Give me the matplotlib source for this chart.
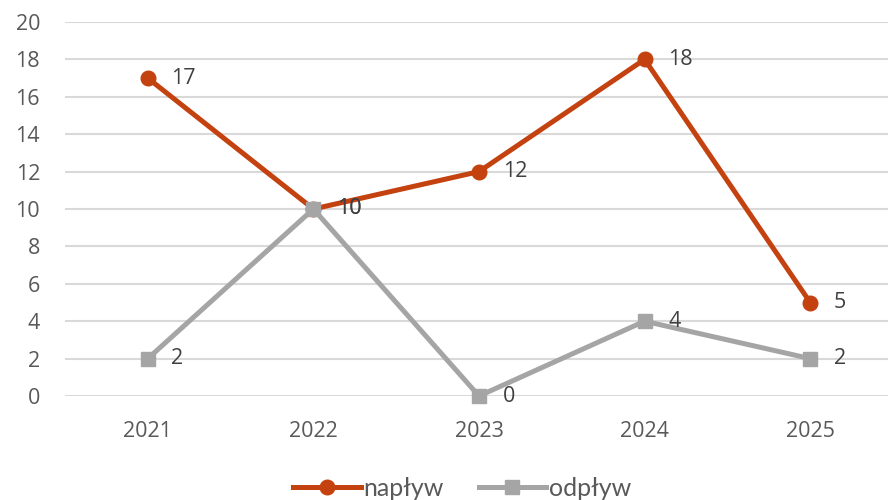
import matplotlib
matplotlib.use("Agg")
import matplotlib.pyplot as plt
from matplotlib.lines import Line2D

years = ["2021", "2022", "2023", "2024", "2025"]
naplyw = [17, 10, 12, 18, 5]
odplyw = [2, 10, 0, 4, 2]
yticks = [0, 2, 4, 6, 8, 10, 12, 14, 16, 18, 20]

plt.rcParams['font.family'] = ['Open Sans', 'DejaVu Sans']
ORANGE = '#C4420F'
GRAY = '#A5A5A5'
TXT = '#595959'
LBL = '#404040'

fig = plt.figure(figsize=(8.88, 5.0), dpi=100)
ax = fig.add_axes([65/888, 104/500, 828/888, 374/500])
ax.set_xlim(-0.5, 4.5)
ax.set_ylim(0, 20)
ax.set_yticks(yticks)
ax.set_xticks(range(len(years)))
ax.set_xticklabels(years)
for s in ax.spines.values():
    s.set_visible(False)
ax.grid(axis='y', color='#D9D9D9', linewidth=1.5)
ax.set_axisbelow(True)
ax.tick_params(length=0, labelsize=15.5, colors=TXT)
ax.tick_params(axis='y', pad=18)
ax.tick_params(axis='x', pad=18)

x = list(range(len(years)))
ax.plot(x, naplyw, color=ORANGE, linewidth=3.6, marker='o', markersize=10.5, zorder=3, clip_on=False)
ax.plot(x, odplyw, color=GRAY, linewidth=3.6, marker='s', markersize=10.5, zorder=4, clip_on=False)
for xi, v in zip(x, naplyw):
    ax.annotate(str(v), (xi, v), xytext=(17, 0), textcoords='offset points',
                ha='left', va='center', fontsize=15.5, color=LBL, zorder=5)
for xi, v in zip(x, odplyw):
    ax.annotate(str(v), (xi, v), xytext=(17, 0), textcoords='offset points',
                ha='left', va='center', fontsize=15.5, color=LBL, zorder=5)

handles = [Line2D([], [], color=ORANGE, linewidth=3.6, marker='o', markersize=10.5),
           Line2D([], [], color=GRAY, linewidth=3.6, marker='s', markersize=10.5)]
fig.legend(handles, ['napływ', 'odpływ'], loc='center', bbox_to_anchor=(462/888, 1 - 488/500),
           ncol=2, frameon=False, handlelength=2.7, columnspacing=1.4,
           handletextpad=0.1, labelcolor=TXT, prop={'family': ['Lato', 'DejaVu Sans'], 'size': 18})

fig.savefig('out.png', dpi=100)
